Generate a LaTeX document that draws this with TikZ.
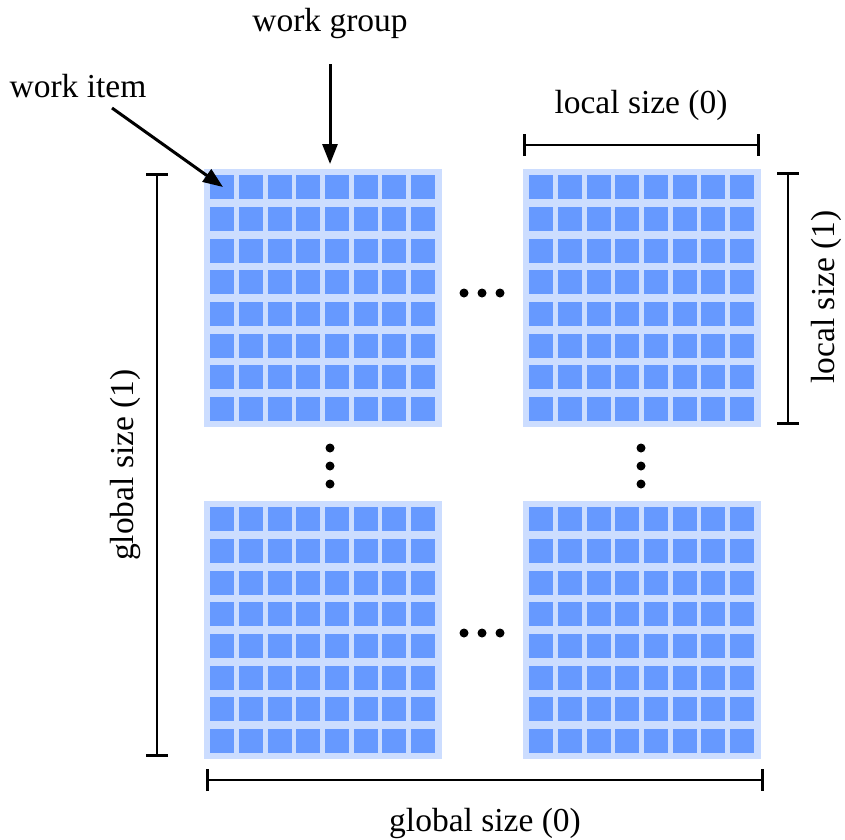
\documentclass[tikz,border=0pt]{standalone}
\usepackage{fontspec}
\setmainfont{Liberation Serif}
\usetikzlibrary{arrows.meta}
\definecolor{cellblue}{RGB}{102,153,255}
\definecolor{blockbg}{RGB}{204,221,255}
\begin{document}
\begin{tikzpicture}[x=1pt,y=-1pt,
  lbl/.style={font=\fontsize{33.5}{40}\selectfont, inner sep=0pt},
  arr/.style={line width=3pt, -{Triangle[length=20pt,width=15pt]}},
  dimline/.style={line width=2.6pt, {Bar[width=22pt]}-{Bar[width=22pt]}},
  dotc/.style={circle, fill=black, inner sep=0pt, minimum size=9pt},
  block/.style={fill=blockbg, inner sep=0pt, minimum width=238pt, minimum height=258pt, anchor=north west},
  cell/.style={fill=cellblue, inner sep=0pt, minimum width=24pt, minimum height=24pt, anchor=north west}]
\useasboundingbox (0,0) rectangle (845,839);

% blocks with their work items
\foreach \nm/\bx/\by in {tl/204/169, tr/523/169, bl/204/501, br/523/501}{
  \node[block] (\nm) at (\bx,\by) {};
  \foreach \i in {0,...,7}{
    \foreach \j in {0,...,7}{
      \node[cell] (\nm-\i-\j) at ({\bx+6+\i*28.7},{\by+6+\j*31.7}) {};
    }
  }
}

% ellipses
\foreach \k/\x in {1/464,2/482,3/500}{
  \node[dotc] (ht\k) at (\x,293) {};
  \node[dotc] (hb\k) at (\x,633) {};
}
\foreach \k/\y in {1/448,2/466,3/484}{
  \node[dotc] (vl\k) at (330,\y) {};
  \node[dotc] (vr\k) at (641,\y) {};
}

% labels
\node[lbl] (wg) at (330,23) {work group};
\node[lbl] (wi) at (78,86) {work item};
\node[lbl] (ls0) at (641,105) {local size (0)};
\node[lbl, rotate=90] (ls1) at (826,297) {local size (1)};
\node[lbl, rotate=90] (gs1) at (125,465) {global size (1)};
\node[lbl] (gs0) at (485,823) {global size (0)};

% arrows
\coordinate (wgstart) at (330,64);
\coordinate (wgtip) at (330,164);
\draw[arr] (wgstart) -- (wgtip);
\coordinate (wistart) at (112,108);
\coordinate (witip) at (223,187);
\draw[arr] (wistart) -- (witip);

% dimension lines
\coordinate (ls0a) at (523,145);
\coordinate (ls0b) at (760,145);
\draw[dimline] (ls0a) -- (ls0b);
\coordinate (ls1a) at (788,172);
\coordinate (ls1b) at (788,425);
\draw[dimline] (ls1a) -- (ls1b);
\coordinate (gs1a) at (157,173);
\coordinate (gs1b) at (157,757);
\draw[dimline] (gs1a) -- (gs1b);
\coordinate (gs0a) at (206,780);
\coordinate (gs0b) at (764,780);
\draw[dimline] (gs0a) -- (gs0b);
\end{tikzpicture}
\end{document}
